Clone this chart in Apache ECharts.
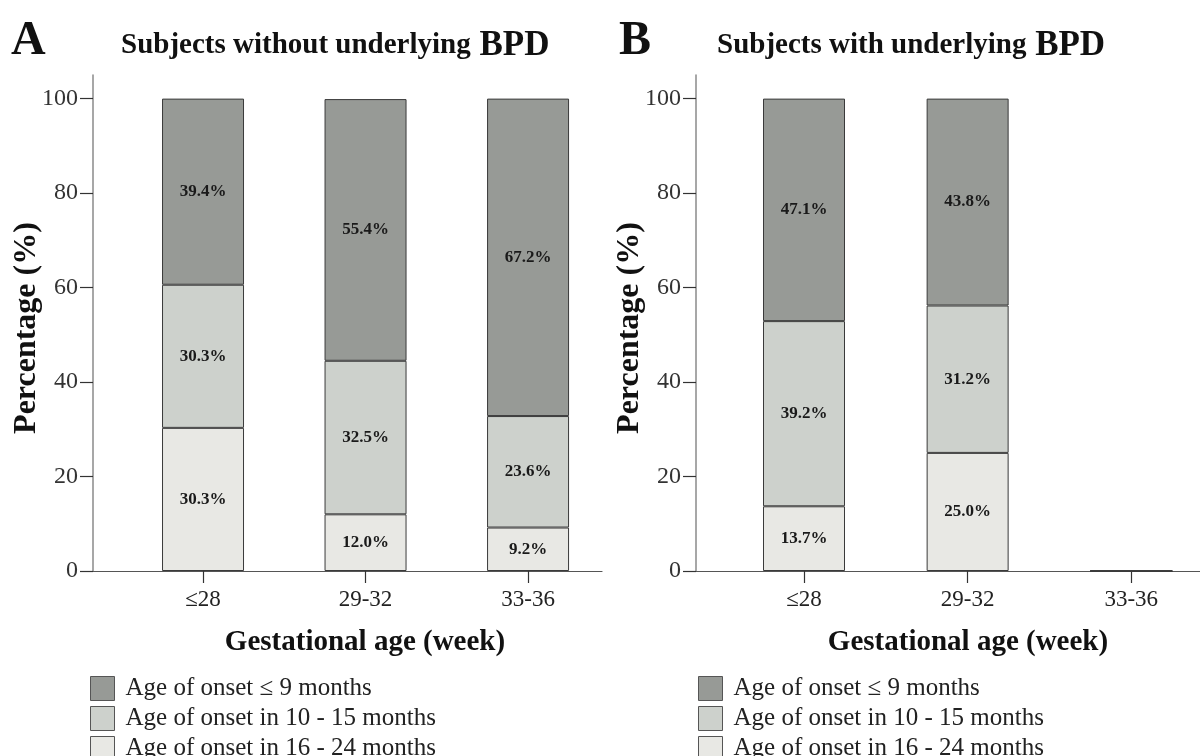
<!DOCTYPE html>
<html>
<head>
<meta charset="utf-8">
<title>Age of onset by gestational age</title>
<script src="https://cdn.jsdelivr.net/npm/echarts@6/dist/echarts.min.js"></script>
<style>
  html, body { margin: 0; padding: 0; background: #fff; }
  #chart { width: 1200px; height: 756px; }
</style>
</head>
<body>
<div id="chart"></div>
<script>
// gestational age groups
var categories = ['≤28', '29-32', '33-36'];
var legendNames = ['Age of onset ≤ 9 months', 'Age of onset in 10 - 15 months', 'Age of onset in 16 - 24 months'];
var yTicks = [0, 20, 40, 60, 80, 100];

// A: subjects without underlying BPD (%)
var noBpd9 = [39.4, 55.4, 67.2];
var noBpd10to15 = [30.3, 32.5, 23.6];
var noBpd16to24 = [30.3, 12.0, 9.2];

// B: subjects with underlying BPD (%)
var bpd9 = [47.1, 43.8, 0];
var bpd10to15 = [39.2, 31.2, 0];
var bpd16to24 = [13.7, 25.0, 0];

var colors = ['#979a96', '#cdd1cc', '#e8e8e4'];
var serif = '"Liberation Serif", "Times New Roman", serif';

// value first so the stack runs on the y dimension
function pts(arr) {
  return arr.map(function (v, i) { return [v, i]; });
}

function barSeries(name, arr, color, idx, stack) {
  return {
    name: name,
    type: 'bar',
    stack: stack,
    xAxisIndex: idx,
    yAxisIndex: idx,
    barWidth: 82,
    encode: { x: 1, y: 0 },
    data: pts(arr),
    itemStyle: { color: color, borderColor: '#3a3a3a', borderWidth: 1 },
    label: {
      show: true,
      position: 'inside',
      fontFamily: serif,
      fontSize: 17,
      fontWeight: 'bold',
      color: '#1a1a1a',
      formatter: function (p) {
        return p.value[0] > 0 ? p.value[0].toFixed(1) + '%' : '';
      }
    },
    emphasis: { disabled: true }
  };
}

function xAxisCfg(idx, min, max, pad) {
  return {
    type: 'value',
    gridIndex: idx,
    min: min,
    max: max,
    splitLine: { show: false },
    axisLine: { show: true, onZero: false, lineStyle: { color: '#555', width: 1.2 } },
    axisTick: { show: true, length: 12, customValues: [0, 1, 2], lineStyle: { color: '#333', width: 1.2 } },
    axisLabel: {
      customValues: [0, 1, 2],
      fontFamily: serif, fontSize: 23, color: '#222', margin: 17,
      formatter: function (v) { return categories[Math.round(v)]; }
    },
    name: 'Gestational age (week)',
    nameLocation: 'middle',
    nameGap: 57,
    nameTextStyle: { fontFamily: serif, fontSize: 29, fontWeight: 'bold', color: '#111', padding: [0, 0, 0, pad] }
  };
}

function yAxisCfg(idx) {
  return {
    type: 'value',
    gridIndex: idx,
    min: 0,
    max: 105,
    splitLine: { show: false },
    axisLine: { show: true, onZero: false, lineStyle: { color: '#8a8a8a', width: 1.5 } },
    axisTick: { show: true, length: 13, customValues: yTicks, lineStyle: { color: '#333', width: 1.2 } },
    axisLabel: { customValues: yTicks, fontFamily: serif, fontSize: 24, color: '#333', margin: 15 },
    name: 'Percentage (%)',
    nameLocation: 'middle',
    nameRotate: 90,
    nameGap: 50,
    nameMoveOverlap: false,
    nameTextStyle: { fontFamily: serif, fontSize: 32, fontWeight: 'bold', color: '#111', padding: [0, 10, 0, 0] }
  };
}

function legendCfg(left) {
  return {
    data: legendNames,
    orient: 'vertical',
    left: left,
    top: 676,
    height: 90,
    padding: 0,
    itemWidth: 24,
    itemHeight: 24,
    itemGap: 5,
    icon: 'rect',
    selectedMode: false,
    itemStyle: { borderColor: '#555', borderWidth: 1 },
    textStyle: { fontFamily: serif, fontSize: 25, color: '#222', padding: [0, 0, 0, 6] }
  };
}

var titleRich = {
  b: { fontFamily: serif, fontSize: 29, fontWeight: 'bold', color: '#111' },
  r: { fontFamily: serif, fontSize: 35, color: '#111' }
};

var chart = echarts.init(document.getElementById('chart'), null, { renderer: 'canvas' });
chart.setOption({
  backgroundColor: '#fff',
  animation: false,
  title: [
    { text: 'A', left: 11, top: 18, padding: 0, textStyle: { fontFamily: serif, fontSize: 48, fontWeight: 'bold', color: '#111' } },
    { text: '{b|Subjects without underlying}{r| BPD}', left: 121, top: 28, padding: 0, textStyle: { rich: titleRich } },
    { text: 'B', left: 619, top: 18, padding: 0, textStyle: { fontFamily: serif, fontSize: 48, fontWeight: 'bold', color: '#111' } },
    { text: '{b|Subjects with underlying}{r| BPD}', left: 717, top: 28, padding: 0, textStyle: { rich: titleRich } }
  ],
  legend: [legendCfg(90), legendCfg(698)],
  grid: [
    { left: 93, top: 75, width: 509, height: 496 },
    { left: 696, top: 75, width: 504, height: 496 }
  ],
  xAxis: [
    xAxisCfg(0, -0.677, 2.455, 35),
    xAxisCfg(1, -0.66, 2.42, 40)
  ],
  yAxis: [yAxisCfg(0), yAxisCfg(1)],
  series: [
    barSeries(legendNames[2], noBpd16to24, colors[2], 0, 'a'),
    barSeries(legendNames[1], noBpd10to15, colors[1], 0, 'a'),
    barSeries(legendNames[0], noBpd9, colors[0], 0, 'a'),
    barSeries(legendNames[2], bpd16to24, colors[2], 1, 'b'),
    barSeries(legendNames[1], bpd10to15, colors[1], 1, 'b'),
    barSeries(legendNames[0], bpd9, colors[0], 1, 'b')
  ]
});
</script>
</body>
</html>
